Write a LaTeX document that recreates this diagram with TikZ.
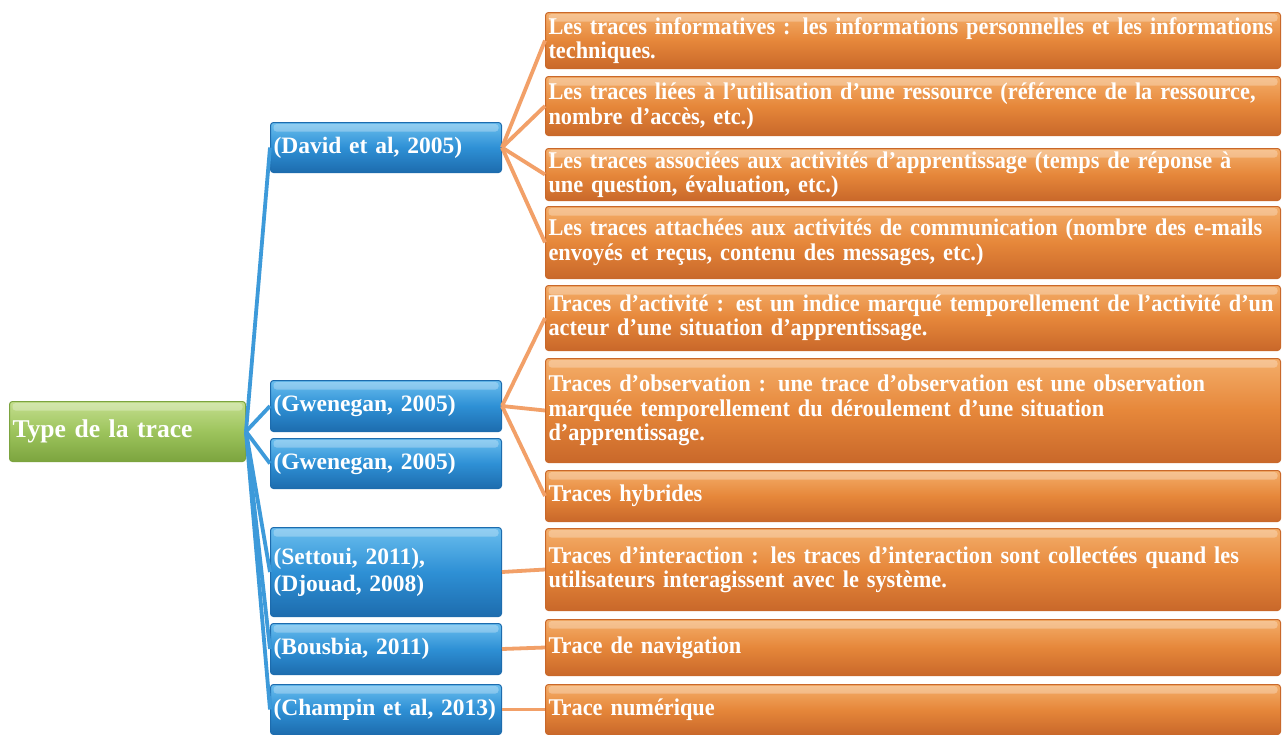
\documentclass[tikz,border=0pt]{standalone}
\usepackage{fontspec}
\setmainfont{Liberation Serif}
\newfontfamily\ofont{Liberation Serif}[FakeStretch=0.93,BoldFeatures={FakeStretch=0.93}]
\definecolor{oTop}{HTML}{F4AE6A}
\definecolor{oMid}{HTML}{E6873A}
\definecolor{oBot}{HTML}{C9682A}
\definecolor{oLine}{HTML}{F2A068}
\definecolor{bTop}{HTML}{6ABEEE}
\definecolor{bMid}{HTML}{2E90D5}
\definecolor{bBot}{HTML}{1D6CAE}
\definecolor{bLine}{HTML}{3D9ADA}
\definecolor{gTop}{HTML}{C4DE8E}
\definecolor{gMid}{HTML}{9DC45C}
\definecolor{gBot}{HTML}{7CA43F}
\newcommand{\txtline}[1]{\mbox{#1}}
\tikzset{
  gloss/.style={path picture={\fill[white,opacity=0.28]
      ([yshift=-0.8pt,xshift=1.5pt]path picture bounding box.north west) rectangle
      ([yshift=-4.5pt,xshift=-1.5pt]path picture bounding box.north east);}},
  basebox/.style={anchor=north west, rounded corners=1.5pt, line width=0.5pt,
      inner xsep=1.5pt, inner ysep=0pt, align=left, text=white, gloss},
  obox/.style={basebox, draw=oBot, top color=oTop, bottom color=oBot, middle color=oMid,
      minimum width=367.5pt, text width=364.5pt,
      font=\ofont\bfseries\fontsize{12}{12.2}\selectfont},
  bbox/.style={basebox, draw=bBot, top color=bTop, bottom color=bBot, middle color=bMid,
      minimum width=115.5pt, text width=112.5pt,
      font=\bfseries\fontsize{11.75}{13.5}\selectfont},
  gbox/.style={basebox, draw=gBot, top color=gTop, bottom color=gBot, middle color=gMid,
      minimum width=118pt, text width=115pt,
      font=\bfseries\fontsize{12.8}{15}\selectfont},
  bconn/.style={draw=bLine, line width=1.9pt},
  oconn/.style={draw=oLine, line width=1.9pt}
}
\begin{document}
\begin{tikzpicture}[x=0.5pt,y=-0.5pt]
\useasboundingbox[fill=white] (0,0) rectangle (1284,734);

% root
\node[gbox, minimum height=30pt] (root) at (9,401) {Type de la trace};

% blue level
\node[bbox, minimum height=25pt]   (b1) at (270,122) {(David et al, 2005)};
\node[bbox, minimum height=25.5pt] (b2) at (270,380) {(Gwenegan, 2005)};
\node[bbox, minimum height=25pt]   (b3) at (270,438) {(Gwenegan, 2005)};
\node[bbox, minimum height=44.5pt] (b4) at (270,527) {(Settoui, 2011),\\(Djouad, 2008)};
\node[bbox, minimum height=25.5pt] (b5) at (270,623) {(Bousbia, 2011)};
\node[bbox, minimum height=25pt]   (b6) at (270,684) {(Champin et al, 2013)};

% orange level
\node[obox, minimum height=28pt]   (o1) at (545,12)  {\txtline{Les traces informatives : les informations personnelles et les informations}\\\txtline{techniques.}};
\node[obox, minimum height=29.5pt] (o2) at (545,76)  {\txtline{Les traces liées à l’utilisation d’une ressource (référence de la ressource,}\\\txtline{nombre d’accès, etc.)}};
\node[obox, minimum height=26pt]   (o3) at (545,148) {\txtline{Les traces associées aux activités d’apprentissage (temps de réponse à}\\\txtline{une question, évaluation, etc.)}};
\node[obox, minimum height=36pt]   (o4) at (545,206) {\txtline{Les traces attachées aux activités de communication (nombre des e-mails}\\\txtline{envoyés et reçus, contenu des messages, etc.)}};
\node[obox, minimum height=32.5pt] (o5) at (545,285) {\txtline{Traces d’activité : est un indice marqué temporellement de l’activité d’un}\\\txtline{acteur d’une situation d’apprentissage.}};
\node[obox, minimum height=52pt]   (o6) at (545,358) {\txtline{Traces d’observation : une trace d’observation est une observation}\\\txtline{marquée temporellement du déroulement d’une situation}\\\txtline{d’apprentissage.}};
\node[obox, minimum height=25.5pt] (o7) at (545,470) {Traces hybrides};
\node[obox, minimum height=41pt]   (o8) at (545,528) {\txtline{Traces d’interaction : les traces d’interaction sont collectées quand les}\\\txtline{utilisateurs interagissent avec le système.}};
\node[obox, minimum height=28pt]   (o9) at (545,619) {Trace de navigation};
\node[obox, minimum height=25pt]   (o10) at (545,684) {Trace numérique};

% connectors root -> blue
\foreach \b in {b1,b2,b3,b4,b5,b6}
  \draw[bconn] (root.east) -- (\b.west);

% connectors blue -> orange
\foreach \o in {o1,o2,o3,o4}
  \draw[oconn] (b1.east) -- (\o.west);
\foreach \o in {o5,o6,o7}
  \draw[oconn] (b2.east) -- (\o.west);
\draw[oconn] (b4.east) -- (o8.west);
\draw[oconn] (b5.east) -- (o9.west);
\draw[oconn] (b6.east) -- (o10.west);
\end{tikzpicture}
\end{document}
